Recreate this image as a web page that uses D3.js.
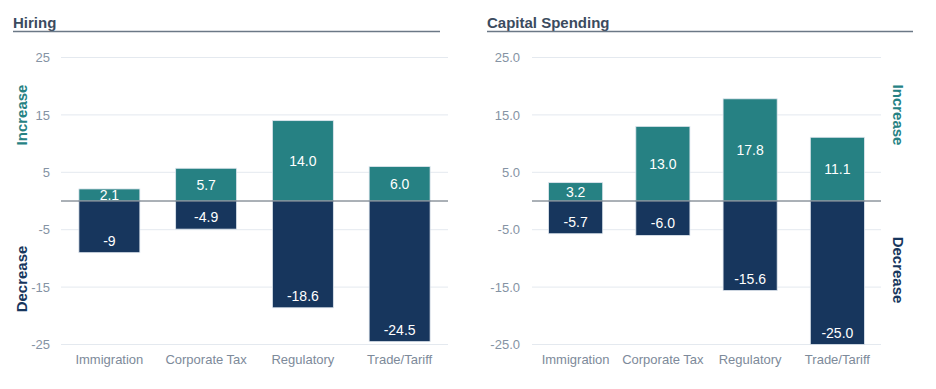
<!DOCTYPE html>
<html><head><meta charset="utf-8">
<script src="https://cdn.jsdelivr.net/npm/d3@7"></script>
<style>body{margin:0;background:#fff;font-family:"Liberation Sans",Arial,sans-serif}</style>
</head><body><svg id="c" width="936" height="389"></svg>
<script>
const categories = ["Immigration","Corporate Tax","Regulatory","Trade/Tariff"];
const hiringIncrease = [2.1, 5.7, 14.0, 6.0];
const hiringDecrease = [-9, -4.9, -18.6, -24.5];
const hiringIncLabels = ["2.1","5.7","14.0","6.0"];
const hiringDecLabels = ["-9","-4.9","-18.6","-24.5"];
const capexIncrease = [3.2, 13.0, 17.8, 11.1];
const capexDecrease = [-5.7, -6.0, -15.6, -25.0];
const capexIncLabels = ["3.2","13.0","17.8","11.1"];
const capexDecLabels = ["-5.7","-6.0","-15.6","-25.0"];
const yTicks = [25, 15, 5, -5, -15, -25];
const hiringTickLabels = ["25","15","5","-5","-15","-25"];
const capexTickLabels = ["25.0","15.0","5.0","-5.0","-15.0","-25.0"];

const TEAL = "#268183", NAVY = "#17365d";
const svg = d3.select("#c");

function panel(o){
  const g = svg.append("g");
  const y = d3.scaleLinear().domain([-25,25]).range([344.5,57.5]);
  const x = d3.scaleBand().domain(categories).range([o.x0,o.x1]).paddingInner(o.pad).paddingOuter(o.pad/2);
  // title
  g.append("text").attr("x",o.tx).attr("y",28).text(o.title)
    .attr("font-size",15).attr("font-weight","bold").attr("fill","#3b4b5e");
  g.append("line").attr("x1",o.tx).attr("x2",o.tx2).attr("y1",31.5).attr("y2",31.5)
    .attr("stroke","#6b7886").attr("stroke-width",1.3);
  // grid
  g.selectAll(".grid").data(yTicks).join("line")
    .attr("x1",o.x0).attr("x2",o.x1).attr("y1",d=>y(d)).attr("y2",d=>y(d))
    .attr("stroke","#e4e9ef").attr("stroke-width",1);
  // y axis
  const ax = d3.axisLeft(y).tickValues(yTicks).tickSize(0).tickPadding(0)
    .tickFormat((d,i)=>o.tickLabels[i]);
  const ag = g.append("g").attr("transform",`translate(${o.tickX},0)`).call(ax);
  ag.select(".domain").remove();
  ag.selectAll("text").attr("font-size",13).attr("fill","#8593a4").attr("font-family","Liberation Sans, Arial, sans-serif");
  // x axis
  const xa = d3.axisBottom(x).tickSize(0).tickPadding(0);
  const xg = g.append("g").attr("transform","translate(0,355)").call(xa);
  xg.select(".domain").remove();
  xg.selectAll("text").attr("font-size",13).attr("fill","#7d8a9a").attr("font-family","Liberation Sans, Arial, sans-serif");
  // bars
  g.selectAll(".inc").data(o.inc).join("rect")
    .attr("x",(d,i)=>x(categories[i])).attr("width",x.bandwidth())
    .attr("y",d=>y(d)).attr("height",d=>y(0)-y(d))
    .attr("fill",TEAL).attr("stroke","#dfe6ee").attr("stroke-width",0.8);
  g.selectAll(".dec").data(o.dec).join("rect")
    .attr("x",(d,i)=>x(categories[i])).attr("width",x.bandwidth())
    .attr("y",y(0)).attr("height",d=>y(d)-y(0))
    .attr("fill",NAVY).attr("stroke","#dfe6ee").attr("stroke-width",0.8);
  // zero line
  g.append("line").attr("x1",o.x0).attr("x2",o.x1).attr("y1",y(0)).attr("y2",y(0))
    .attr("stroke","#56626f").attr("stroke-width",1);
  // labels
  g.selectAll(".il").data(o.inc).join("text")
    .attr("x",(d,i)=>x(categories[i])+x.bandwidth()/2)
    .attr("y",d=>(y(d)+y(0))/2).attr("dy","0.36em")
    .attr("text-anchor","middle").attr("fill","#fff").attr("font-size",14)
    .text((d,i)=>o.incLabels[i]);
  g.selectAll(".dl").data(o.dec).join("text")
    .attr("x",(d,i)=>x(categories[i])+x.bandwidth()/2)
    .attr("y",d=>y(d)-12).attr("dy","0.36em")
    .attr("text-anchor","middle").attr("fill","#fff").attr("font-size",14)
    .text((d,i)=>o.decLabels[i]);
  // side labels
  const rot = o.side==="left" ? -90 : 90;
  g.append("text").attr("transform",`translate(${o.sx},${o.incY}) rotate(${rot})`)
    .attr("text-anchor","middle").attr("dy","0.35em").attr("font-size",15).attr("font-weight","bold")
    .attr("fill",TEAL).text("Increase");
  g.append("text").attr("transform",`translate(${o.sx},${o.decY}) rotate(${rot})`)
    .attr("text-anchor","middle").attr("dy","0.35em").attr("font-size",15).attr("font-weight","bold")
    .attr("fill",NAVY).text("Decrease");
}

panel({title:"Hiring", tx:13, tx2:440, x0:61, x1:448, pad:0.37, tickX:50,
  tickLabels:hiringTickLabels, inc:hiringIncrease, dec:hiringDecrease,
  incLabels:hiringIncLabels, decLabels:hiringDecLabels, side:"left", sx:22, incY:115, decY:279});
panel({title:"Capital Spending", tx:487, tx2:913, x0:532, x1:881, pad:0.38, tickX:520,
  tickLabels:capexTickLabels, inc:capexIncrease, dec:capexDecrease,
  incLabels:capexIncLabels, decLabels:capexDecLabels, side:"right", sx:898, incY:115, decY:270});
</script>
</body></html>
